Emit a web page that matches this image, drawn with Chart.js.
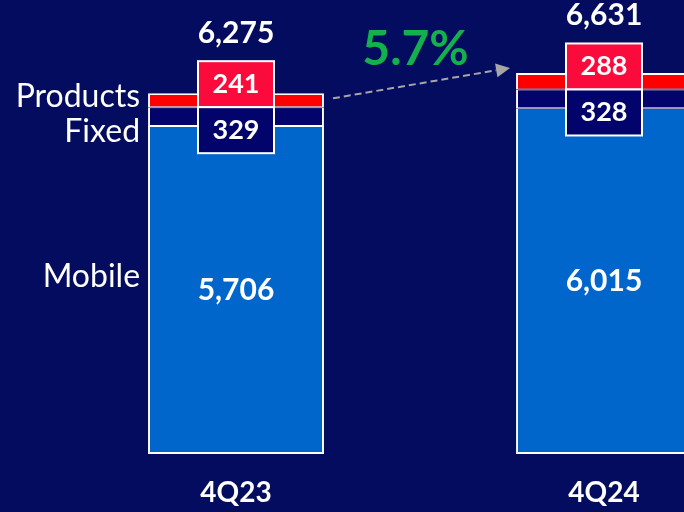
<!DOCTYPE html>
<html>
<head>
<meta charset="utf-8">
<script src="https://cdn.jsdelivr.net/npm/chart.js@4.4.1/dist/chart.umd.min.js"></script>
<style>
  html, body { margin: 0; padding: 0; background: #030c5e; overflow: hidden; }
  #wrap { width: 800px; height: 512px; }
</style>
</head>
<body>
<div id="wrap"><canvas id="revenueChart" width="800" height="512"></canvas></div>
<script>
const quarters = ['4Q23', '4Q24'];
const mobile = [5706, 6015];
const fixed = [329, 328];
const products = [241, 288];
const totals = [6275, 6631];
const growthLabel = '5.7%';

const FONT = 'Lato, "Open Sans", sans-serif';
const fmt = (v) => v.toLocaleString('en-US');

// value boxes, totals, series names and the growth arrow
const labelsPlugin = {
    id: 'labels',
    afterDatasetsDraw(chart) {
        const ctx = chart.ctx;
        const mobileMeta = chart.getDatasetMeta(0);
        const fixedMeta = chart.getDatasetMeta(1);
        const prodMeta = chart.getDatasetMeta(2);
        const boxW = 76, boxH = 46;

        ctx.save();
        ctx.textAlign = 'center';
        ctx.textBaseline = 'middle';

        quarters.forEach((q, i) => {
            const m = mobileMeta.data[i];
            const f = fixedMeta.data[i];
            const x = m.x;
            const edge = f.y;

            // mobile value inside the bar
            ctx.fillStyle = '#ffffff';
            ctx.font = 'bold 30px ' + FONT;
            ctx.fillText(fmt(mobile[i]), x, (m.y + m.base) / 2);

            // products box
            ctx.lineWidth = 2;
            ctx.strokeStyle = '#ffffff';
            ctx.fillStyle = '#fb0a3c';
            ctx.fillRect(x - boxW / 2, edge - boxH, boxW, boxH);
            ctx.strokeRect(x - boxW / 2, edge - boxH, boxW, boxH);
            // fixed box
            ctx.fillStyle = '#02036b';
            ctx.fillRect(x - boxW / 2, edge, boxW, boxH);
            ctx.strokeRect(x - boxW / 2, edge, boxW, boxH);

            ctx.fillStyle = '#ffffff';
            ctx.font = 'bold 27px ' + FONT;
            ctx.fillText(fmt(products[i]), x, edge - boxH / 2);
            ctx.fillText(fmt(fixed[i]), x, edge + boxH / 2);

            // total above
            ctx.font = 'bold 30px ' + FONT;
            ctx.fillText(fmt(totals[i]), x, edge - boxH - 28);
        });

        // series names left of the first bar
        const b0 = mobileMeta.data[0];
        const left = b0.x - b0.width / 2 - 8;
        ctx.textAlign = 'right';
        ctx.font = '32px ' + FONT;
        ctx.fillStyle = '#ffffff';
        const p0 = prodMeta.data[0], f0 = fixedMeta.data[0];
        ctx.fillText(chart.data.datasets[2].label, left, (p0.y + p0.base) / 2 - 4);
        ctx.fillText(chart.data.datasets[1].label, left, (f0.y + f0.base) / 2 + 15);
        ctx.fillText(chart.data.datasets[0].label, left, (b0.y + b0.base) / 2 - 13);

        // growth arrow between the bar tops
        const p1 = prodMeta.data[1];
        const x0 = p0.x + p0.width / 2 + 9, y0 = p0.y + 5;
        const x1 = p1.x - p1.width / 2 - 6, y1 = p1.y - 5;
        const ang = Math.atan2(y1 - y0, x1 - x0);
        const head = 14;
        ctx.strokeStyle = '#a6a6a6';
        ctx.fillStyle = '#a6a6a6';
        ctx.lineWidth = 2;
        ctx.setLineDash([7, 4]);
        ctx.beginPath();
        ctx.moveTo(x0, y0);
        ctx.lineTo(x1 - head * Math.cos(ang), y1 - head * Math.sin(ang));
        ctx.stroke();
        ctx.setLineDash([]);
        ctx.beginPath();
        ctx.moveTo(x1, y1);
        ctx.lineTo(x1 - head * Math.cos(ang) - 7 * Math.sin(ang), y1 - head * Math.sin(ang) + 7 * Math.cos(ang));
        ctx.lineTo(x1 - head * Math.cos(ang) + 7 * Math.sin(ang), y1 - head * Math.sin(ang) - 7 * Math.cos(ang));
        ctx.closePath();
        ctx.fill();

        ctx.textAlign = 'center';
        ctx.fillStyle = '#14b04e';
        ctx.font = 'bold 48px ' + FONT;
        ctx.fillText(growthLabel, (x0 + x1) / 2 - 6, 50);
        ctx.restore();
    }
};

// adjacent segments share one thin white line; the stack keeps a 2px outline
const segBorder = (bottom) => ({ top: 1, bottom: bottom, left: 2, right: 2 });

new Chart(document.getElementById('revenueChart'), {
    type: 'bar',
    data: {
        labels: quarters,
        datasets: [
            { label: 'Mobile', data: mobile, backgroundColor: '#0066cc', borderWidth: segBorder(2) },
            { label: 'Fixed', data: fixed, backgroundColor: '#02036b', borderWidth: segBorder(1) },
            { label: 'Products', data: products, backgroundColor: '#ff0000', borderWidth: { top: 2, bottom: 1, left: 2, right: 2 } }
        ].map(d => Object.assign(d, {
            borderColor: '#ffffff',
            borderSkipped: false,
            categoryPercentage: 1,
            barPercentage: 0.478
        }))
    },
    options: {
        responsive: false,
        animation: false,
        layout: { padding: { left: 52, right: 12, top: 0, bottom: 0 } },
        plugins: { legend: { display: false }, tooltip: { enabled: false } },
        scales: {
            x: {
                stacked: true,
                grid: { display: false, drawTicks: false },
                border: { display: false },
                afterFit(scale) { scale.height = 58; },
                ticks: { color: '#ffffff', padding: 22, font: { family: FONT, size: 28, weight: 'bold' } }
            },
            y: { stacked: true, display: false, min: 0, max: 7900 }
        }
    },
    plugins: [labelsPlugin]
});
</script>
</body>
</html>
